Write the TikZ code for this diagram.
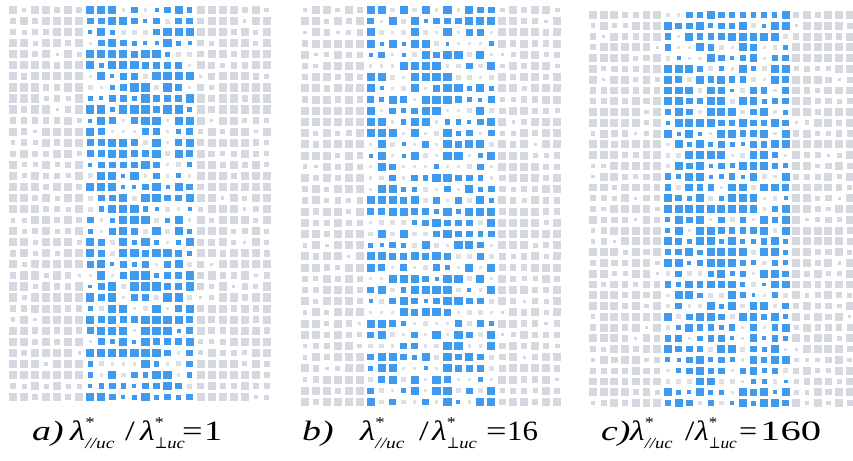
\documentclass[tikz,border=0pt]{standalone}
\usepackage{fontspec}
\setmainfont{Liberation Serif}
\newfontfamily\symf{DejaVu Serif}
\definecolor{gcol}{HTML}{D5D9DF}
\definecolor{bcol}{HTML}{3F9BF0}
\definecolor{lgcol}{HTML}{DDE0E4}
\newcommand\lamq[1]{\textit{λ}\rlap{\raisebox{0.45em}{\fontsize{15}{15}\selectfont *}}\raisebox{-0.32em}{\fontsize{15.5}{15}\selectfont #1}}
\newcommand\perpg{\scalebox{0.72}[1]{\symf ⊥}}
\newcommand\drawpanel[9]{%
 \foreach \i in {0,...,#5}{%
  \foreach \j in {0,...,#6}{%
   \pgfmathsetmacro\cx{#1+\i*#3}%
   \pgfmathsetmacro\cy{#2+\j*#4}%
   \pgfmathrandominteger{\rr}{1}{100}%
   \pgfmathrandominteger{\ss}{1}{100}%
   \ifnum\i<#7\relax \def\inband{0}\else\ifnum\i>#8\relax\def\inband{0}\else\def\inband{1}\fi\fi
   \ifnum\inband=1\relax
     \ifnum\rr<#9\relax
        \ifnum\ss<52\relax\def\sz{0.74}\else\ifnum\ss<80\relax\def\sz{0.6}\else\ifnum\ss<94\relax\def\sz{0.47}\else\def\sz{0.36}\fi\fi\fi
        \def\cc{bcol}%
     \else
        \ifnum\ss<50\relax\def\sz{0.3}\else\def\sz{0.45}\fi
        \def\cc{lgcol}%
     \fi
   \else
     \ifnum\ss<56\relax\def\sz{0.74}\else\ifnum\ss<83\relax\def\sz{0.59}\else\ifnum\ss<97\relax\def\sz{0.45}\else\def\sz{0.3}\fi\fi\fi
     \def\cc{gcol}%
   \fi
   \pgfmathsetmacro\hs{\sz*#3/2}%
   \fill[fill=\cc] (\cx-\hs,\cy-\hs) rectangle (\cx+\hs,\cy+\hs);
  }}}
\tikzset{lbl/.style={anchor=base west, inner sep=0pt, font=\fontsize{28}{30}\selectfont}}
\begin{document}
\begin{tikzpicture}[x=1pt,y=-1pt]
\fill[white] (0,0) rectangle (853,460);
\useasboundingbox (0,0) rectangle (853,460);
\pgfmathsetseed{11}
\drawpanel{13}{10}{11.04}{11.06}{23}{35}{7}{16}{80}
\drawpanel{305}{10}{10.96}{11.2}{23}{35}{6}{17}{66}
\drawpanel{593}{15}{10.7}{10.78}{24}{36}{7}{18}{76}
% labels a
\node[lbl] (la) at (32,440) {\scalebox{1.35}[1]{\textit{a)}}};
\node[lbl] (la1) at (70,440) {\scalebox{1.25}[1]{\lamq{\textit{//uc}}}};
\node[lbl] (las) at (125,440) {\scalebox{1.25}[1]{/}};
\node[lbl] (la2) at (140,440) {\scalebox{1.2}[1]{\lamq{\perpg\textit{uc}}}};
\node[lbl] (lae) at (182,440) {\scalebox{1.3}[1]{=}};
\node[lbl] (lan) at (204,440) {\scalebox{1.3}[1]{1}};
% labels b
\node[lbl] (lb) at (302,440) {\scalebox{1.35}[1]{\textit{b)}}};
\node[lbl] (lb1) at (360,440) {\scalebox{1.25}[1]{\lamq{\textit{//uc}}}};
\node[lbl] (lbs) at (419,440) {\scalebox{1.25}[1]{/}};
\node[lbl] (lb2) at (432,440) {\scalebox{1.2}[1]{\lamq{\perpg\textit{uc}}}};
\node[lbl] (lbe) at (486,440) {\scalebox{1.3}[1]{=}};
\node[lbl] (lbn) at (507,440) {\scalebox{1.1}[1]{16}};
% labels c
\node[lbl] (lc) at (601,440) {\scalebox{1.35}[1]{\textit{c)}}};
\node[lbl] (lc1) at (630,440) {\scalebox{1.2}[1]{\lamq{\textit{//uc}}}};
\node[lbl] (lcs) at (685,440) {\scalebox{1.2}[1]{/}};
\node[lbl] (lc2) at (695,440) {\scalebox{1.12}[1]{\lamq{\perpg\textit{uc}}}};
\node[lbl] (lce) at (739,440) {\scalebox{1.15}[1]{=}};
\node[lbl] (lcn) at (760,440) {\scalebox{1.45}[1]{160}};
\end{tikzpicture}
\end{document}
